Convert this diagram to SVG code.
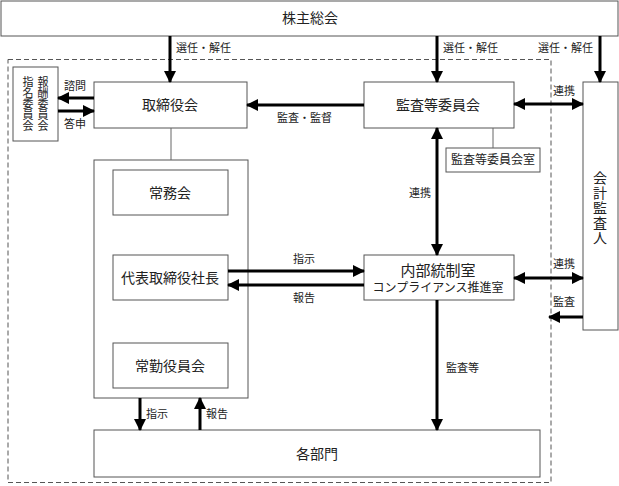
<svg xmlns="http://www.w3.org/2000/svg" width="619" height="486" viewBox="0 0 619 486">
<style>
.box{fill:#fff;stroke:#555;stroke-width:1}
.ln{stroke:#000;stroke-width:3;fill:none}
.thin{stroke:#666;stroke-width:1;fill:none}
text{font-family:"Liberation Serif","Noto Sans CJK JP",serif;fill:#222}
.t{font-size:14px;text-anchor:middle;dominant-baseline:central}
.s{font-size:11px}
.v{font-size:11px;text-anchor:middle;dominant-baseline:central}
.vl{font-size:14px;text-anchor:middle;dominant-baseline:central}
</style>
<defs>
<marker id="ah" markerUnits="userSpaceOnUse" markerWidth="12" markerHeight="12" refX="11" refY="6" orient="auto-start-reverse">
<path d="M0,0 L12,6 L0,12 Z" fill="#000"/>
</marker>
</defs>
<rect x="8" y="59.5" width="543" height="423" fill="none" stroke="#555" stroke-width="1" stroke-dasharray="5,3"/>
<g id="kabunushi"><rect class="box" x="1" y="1" width="617" height="35"/><text class="t" x="310" y="18">株主総会</text></g>
<g id="iinkai"><rect class="box" x="13" y="67" width="45" height="74"/>
<text class="v" x="43" y="82">報</text><text class="v" x="43" y="93">酬</text><text class="v" x="43" y="104">委</text><text class="v" x="43" y="115">員</text><text class="v" x="43" y="126">会</text>
<text class="v" x="28" y="82">指</text><text class="v" x="28" y="93">名</text><text class="v" x="28" y="104">委</text><text class="v" x="28" y="115">員</text><text class="v" x="28" y="126">会</text></g>
<g id="torishimariyakukai"><rect class="box" x="94" y="82" width="153" height="46"/><text class="t" x="170" y="105">取締役会</text></g>
<g id="kansatoiinkai"><rect class="box" x="364" y="82" width="150" height="46"/><text class="t" x="438" y="105">監査等委員会</text></g>
<g id="kansatoiinkaishitsu"><rect class="box" x="446" y="148" width="94" height="24"/><text class="t" x="493" y="160" style="font-size:12px">監査等委員会室</text></g>
<g id="kaikei"><rect class="box" x="583" y="82" width="35" height="248"/>
<text class="vl" x="600" y="178">会</text><text class="vl" x="600" y="193">計</text><text class="vl" x="600" y="208">監</text><text class="vl" x="600" y="223">査</text><text class="vl" x="600" y="238">人</text></g>
<g id="keieigroup"><rect class="box" x="94" y="160" width="154" height="238"/></g>
<g id="jomukai"><rect class="box" x="113" y="170" width="115" height="45"/><text class="t" x="170" y="193">常務会</text></g>
<g id="shacho"><rect class="box" x="113" y="255" width="115" height="45"/><text class="t" x="170" y="278">代表取締役社長</text></g>
<g id="jokinyakuinkai"><rect class="box" x="113" y="343" width="115" height="45"/><text class="t" x="170" y="366">常勤役員会</text></g>
<g id="naibutosei"><rect class="box" x="364" y="255" width="150" height="45"/><text class="t" x="438" y="271" style="font-size:15px">内部統制室</text><text class="t" x="438" y="288" style="font-size:12px">コンプライアンス推進室</text></g>
<g id="kakubumon"><rect class="box" x="94" y="430" width="446" height="47"/><text class="t" x="317" y="454">各部門</text></g>
<g id="connectors">
<line class="ln" x1="170" y1="36" x2="170" y2="82" marker-end="url(#ah)"/>
<line class="ln" x1="437" y1="36" x2="437" y2="82" marker-end="url(#ah)"/>
<line class="ln" x1="600" y1="36" x2="600" y2="82" marker-end="url(#ah)"/>
<line class="ln" x1="94" y1="98" x2="58" y2="98" marker-end="url(#ah)"/>
<line class="ln" x1="58" y1="111" x2="94" y2="111" marker-end="url(#ah)"/>
<line class="ln" x1="364" y1="105" x2="247" y2="105" marker-end="url(#ah)"/>
<line class="ln" x1="514" y1="104" x2="583" y2="104" marker-start="url(#ah)" marker-end="url(#ah)"/>
<line class="thin" x1="493" y1="128" x2="493" y2="148"/>
<line class="thin" x1="171" y1="128" x2="171" y2="160"/>
<line class="ln" x1="437" y1="128" x2="437" y2="255" marker-start="url(#ah)" marker-end="url(#ah)"/>
<line class="ln" x1="228" y1="271" x2="364" y2="271" marker-end="url(#ah)"/>
<line class="ln" x1="364" y1="285" x2="228" y2="285" marker-end="url(#ah)"/>
<line class="ln" x1="514" y1="278" x2="583" y2="278" marker-start="url(#ah)" marker-end="url(#ah)"/>
<line class="ln" x1="583" y1="317" x2="549" y2="317" marker-end="url(#ah)"/>
<line class="ln" x1="437" y1="300" x2="437" y2="430" marker-end="url(#ah)"/>
<line class="ln" x1="140" y1="398" x2="140" y2="430" marker-end="url(#ah)"/>
<line class="ln" x1="200" y1="430" x2="200" y2="398" marker-end="url(#ah)"/>
<text class="s" x="176" y="52">選任・解任</text>
<text class="s" x="443" y="52">選任・解任</text>
<text class="s" x="538" y="52">選任・解任</text>
<text class="s" x="64" y="90">諮問</text>
<text class="s" x="64" y="128">答申</text>
<text class="s" x="277" y="122">監査・監督</text>
<text class="s" x="553" y="95">連携</text>
<text class="s" x="409" y="197">連携</text>
<text class="s" x="293" y="263">指示</text>
<text class="s" x="293" y="302">報告</text>
<text class="s" x="553" y="268">連携</text>
<text class="s" x="553" y="306">監査</text>
<text class="s" x="446" y="372">監査等</text>
<text class="s" x="146" y="418">指示</text>
<text class="s" x="206" y="418">報告</text>
</g>
</svg>
